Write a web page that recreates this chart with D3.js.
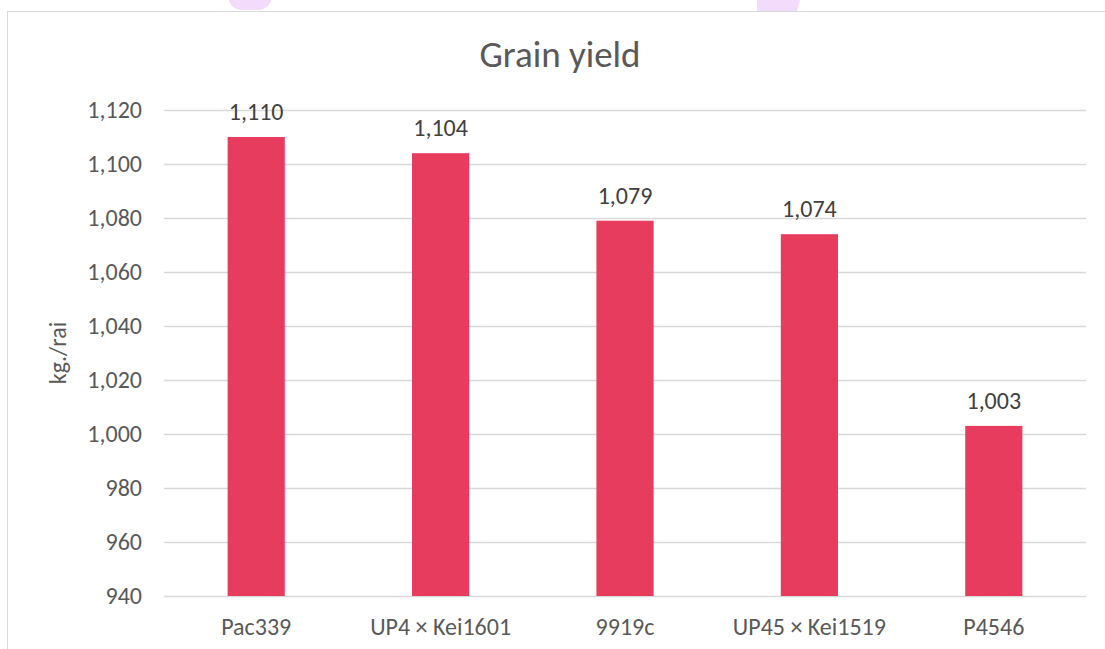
<!DOCTYPE html>
<html>
<head>
<meta charset="utf-8">
<script src="https://cdn.jsdelivr.net/npm/d3@7"></script>
<style>
  body { margin: 0; background: #fff; }
  text { font-family: Calibri, Carlito, "Open Sans", sans-serif; }
</style>
</head>
<body>
<div id="chart"></div>
<script>
// chart data
const varieties = ["Pac339", "UP4 \u00d7 Kei1601", "9919c", "UP45 \u00d7 Kei1519", "P4546"];
const yields = [1110, 1104, 1079, 1074, 1003];
const yTicks = [940, 960, 980, 1000, 1020, 1040, 1060, 1080, 1100, 1120];

const width = 1105, height = 649;
const margin = {top: 110, right: 19, bottom: 53, left: 164};

const svg = d3.select("#chart")
  .append("svg")
    .attr("width", width)
    .attr("height", height);

// pink blobs peeking from the top edge
svg.append("rect")
  .attr("x", 228).attr("y", -30)
  .attr("width", 44).attr("height", 40)
  .attr("rx", 14)
  .attr("fill", "#f3dcfb");
svg.append("path")
  .attr("d", "M757,0 L800,0 L797,11 L757,11 Z")
  .attr("fill", "#f3dcfb");

// chart border
svg.append("rect")
  .attr("x", 7.5).attr("y", 11.5)
  .attr("width", 1120).attr("height", 700)
  .attr("fill", "#fff")
  .attr("stroke", "#d9d9d9")
  .attr("stroke-width", 1);

const x = d3.scaleBand()
  .domain(varieties)
  .range([margin.left, width - margin.right])
  .paddingInner(0.69)
  .paddingOuter(0.345);

const y = d3.scaleLinear()
  .domain([940, 1120])
  .range([height - margin.bottom, margin.top]);

const fmt = d3.format(",");

// gridlines
svg.append("g")
  .selectAll("line")
  .data(yTicks)
  .join("line")
    .attr("x1", margin.left)
    .attr("x2", width - margin.right)
    .attr("y1", d => Math.round(y(d)) + 0.5)
    .attr("y2", d => Math.round(y(d)) + 0.5)
    .attr("stroke", "#d9d9d9")
    .attr("stroke-width", 1.5);

// y axis labels
const yAxis = svg.append("g")
  .attr("transform", `translate(${margin.left - 22},0)`)
  .call(d3.axisLeft(y).tickValues(yTicks).tickFormat(fmt).tickSize(0).tickPadding(0));
yAxis.select(".domain").remove();
yAxis.selectAll("text")
  .attr("fill", "#595959")
  .style("font-size", "24px");

// x axis labels
const xAxis = svg.append("g")
  .attr("transform", `translate(0,${height - margin.bottom})`)
  .call(d3.axisBottom(x).tickSize(0).tickPadding(0));
xAxis.select(".domain").remove();
xAxis.selectAll("text")
  .attr("dy", null)
  .attr("y", 39)
  .attr("fill", "#595959")
  .style("font-size", "24px");

// bars
svg.append("g")
  .selectAll("rect")
  .data(varieties)
  .join("rect")
    .attr("x", d => x(d))
    .attr("y", (d, i) => y(yields[i]))
    .attr("width", x.bandwidth())
    .attr("height", (d, i) => y(940) - y(yields[i]))
    .attr("fill", "#e83c5f");

// value labels
svg.append("g")
  .selectAll("text")
  .data(varieties)
  .join("text")
    .attr("x", d => x(d) + x.bandwidth() / 2)
    .attr("y", (d, i) => y(yields[i]) - 17)
    .attr("text-anchor", "middle")
    .attr("fill", "#404040")
    .style("font-size", "24px")
    .text((d, i) => fmt(yields[i]));

// title
svg.append("text")
  .attr("x", 560)
  .attr("y", 67)
  .attr("text-anchor", "middle")
  .attr("fill", "#595959")
  .style("font-size", "37px")
  .text("Grain yield");

// y axis title
svg.append("text")
  .attr("transform", `translate(66,${(margin.top + height - margin.bottom) / 2}) rotate(-90)`)
  .attr("text-anchor", "middle")
  .attr("fill", "#595959")
  .style("font-size", "24px")
  .text("kg./rai");
</script>
</body>
</html>
